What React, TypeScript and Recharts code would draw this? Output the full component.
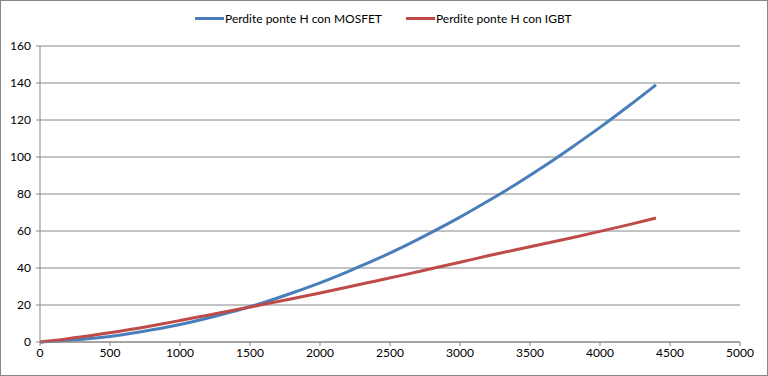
import React from 'react';
import { LineChart, Line, XAxis, YAxis, CartesianGrid } from 'recharts';

const currents = [0, 200, 400, 600, 800, 1000, 1200, 1400, 1600, 1800, 2000, 2200, 2400, 2600, 2800, 3000, 3200, 3400, 3600, 3800, 4000, 4200, 4400];
const mosfetLoss = [0, 0.9, 2.2, 4.1, 6.6, 9.5, 13, 16.9, 21.4, 26.5, 32, 38.1, 44.6, 51.7, 59.4, 67.5, 76.2, 85.3, 95, 105.3, 116, 127.3, 139];
const igbtLoss = [0, 1.8, 3.9, 6.2, 8.8, 11.6, 14.5, 17.4, 20.4, 23.4, 26.5, 29.7, 33, 36.3, 39.7, 43.1, 46.6, 49.9, 53.1, 56.4, 59.8, 63.3, 67];

const xTicks = [0, 500, 1000, 1500, 2000, 2500, 3000, 3500, 4000, 4500, 5000];
const yTicks = [0, 20, 40, 60, 80, 100, 120, 140, 160];

const seriesNames = ['Perdite ponte H con MOSFET', 'Perdite ponte H con IGBT'];
const seriesColors = ['#4a7ebb', '#be4b48'];

const data = currents.map((x, i) => ({ x, mosfet: mosfetLoss[i], igbt: igbtLoss[i] }));

const FONT = 'Lato, "Open Sans", sans-serif';
const GRAY = '#868686';

export default function App() {
  return (
    <div
      style={{
        position: 'absolute',
        left: 0,
        top: 0,
        width: 768,
        height: 376,
        boxSizing: 'border-box',
        border: `1px solid ${GRAY}`,
        background: '#fff',
        fontFamily: FONT,
      }}
    >
      <div style={{ position: 'absolute', top: 10, left: 194, display: 'flex', fontSize: 12, color: '#000' }}>
        {seriesNames.map((name, i) => (
          <div key={name} style={{ display: 'flex', alignItems: 'center', marginRight: i === 0 ? 24 : 0 }}>
            <span style={{ display: 'inline-block', width: 29, height: 3, background: seriesColors[i], marginRight: 1 }} />
            <span>{name}</span>
          </div>
        ))}
      </div>
      <div style={{ position: 'absolute', left: -1, top: -1 }}>
        <LineChart width={768} height={376} data={data} margin={{ top: 46, right: 28, bottom: 0, left: 0 }}>
          <CartesianGrid vertical={false} stroke={GRAY} strokeWidth={1} />
          <XAxis
            dataKey="x"
            type="number"
            domain={[0, 5000]}
            ticks={xTicks}
            interval={0}
            height={34}
            stroke={GRAY}
            tickSize={4}
            tick={{ fill: '#000', fontSize: 12, fontFamily: FONT }}
          />
          <YAxis
            type="number"
            domain={[0, 160]}
            ticks={yTicks}
            interval={0}
            width={40}
            stroke={GRAY}
            tickSize={4}
            tick={{ fill: '#000', fontSize: 12, fontFamily: FONT, dx: -3 }}
          />
          <Line type="monotone" dataKey="mosfet" stroke={seriesColors[0]} strokeWidth={3} dot={false} isAnimationActive={false} />
          <Line type="monotone" dataKey="igbt" stroke={seriesColors[1]} strokeWidth={3} dot={false} isAnimationActive={false} />
        </LineChart>
      </div>
    </div>
  );
}
